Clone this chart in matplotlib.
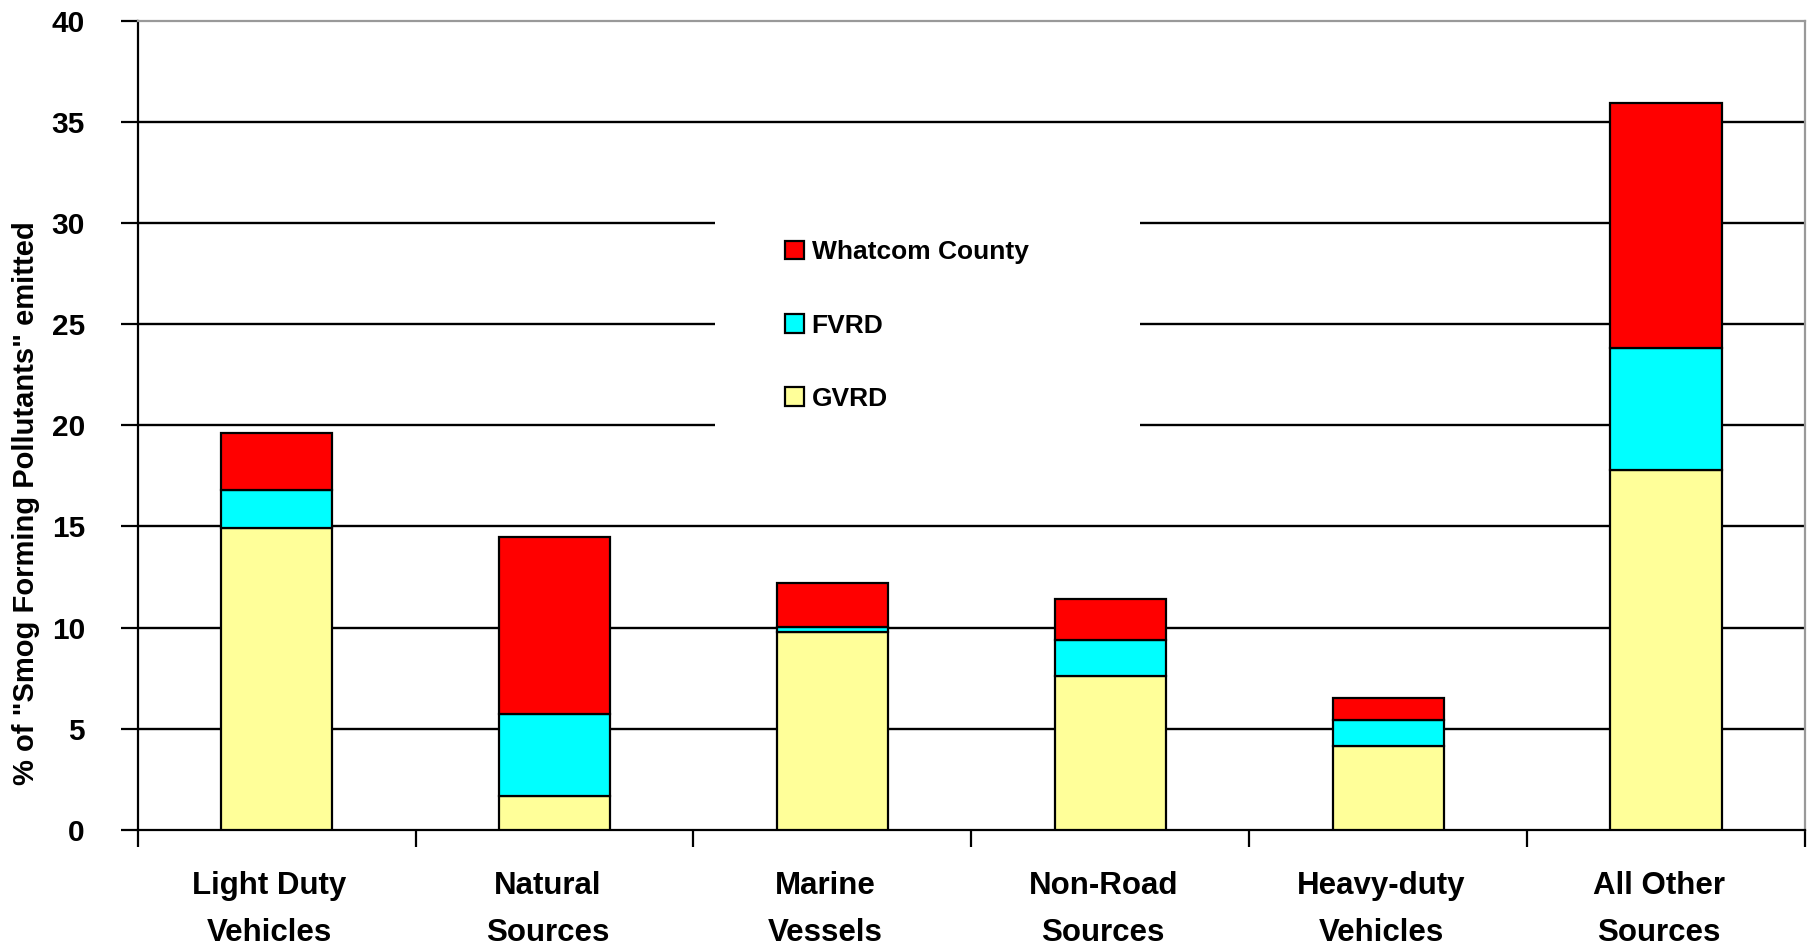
import matplotlib
matplotlib.use("Agg")
import matplotlib.pyplot as plt
from matplotlib.patches import Rectangle
from matplotlib.transforms import ScaledTranslation
import numpy as np

categories = [
    "Light Duty\nVehicles",
    "Natural\nSources",
    "Marine\nVessels",
    "Non-Road\nSources",
    "Heavy-duty\nVehicles",
    "All Other\nSources",
]
gvrd = [14.9, 1.65, 9.8, 7.6, 4.15, 17.8]
fvrd = [1.9, 4.05, 0.25, 1.8, 1.3, 6.0]
whatcom = [2.8, 8.8, 2.15, 2.0, 1.05, 12.15]
yticks = [0, 5, 10, 15, 20, 25, 30, 35, 40]

plt.rcParams["font.family"] = ["Liberation Sans", "DejaVu Sans"]
plt.rcParams["font.weight"] = "bold"

fig = plt.figure(figsize=(18.14, 9.44), dpi=100)
ax = fig.add_axes([0.0759, 0.121, 0.9191, 0.857])

x = np.arange(len(categories))
w = 0.4
g = np.array(gvrd)
f = np.array(fvrd)
wc = np.array(whatcom)
b1 = ax.bar(x, g, w, color="#FFFF99", edgecolor="black", linewidth=1.6, zorder=3, label="GVRD")
b2 = ax.bar(x, f, w, bottom=g, color="#00FFFF", edgecolor="black", linewidth=1.6, zorder=3, label="FVRD")
b3 = ax.bar(x, wc, w, bottom=g + f, color="#FF0000", edgecolor="black", linewidth=1.6, zorder=3,
            label="Whatcom County")

ax.set_xlim(-0.5, len(categories) - 0.5)
ax.set_ylim(0, 40)
ax.set_yticks(yticks)
ax.set_yticklabels([str(t) for t in yticks], fontsize=21.5, fontweight="bold")
for t in yticks[1:-1]:
    ax.axhline(t, color="black", linewidth=1.7, zorder=1)

# category boundaries as ticks, names at centres
ax.set_xticks(np.arange(-0.5, len(categories)), minor=False)
ax.set_xticklabels([])
ax.set_xticks(x, minor=True)
ax.set_xticklabels(categories, minor=True, fontsize=22.5, fontweight="bold", linespacing=1.7)
ax.tick_params(axis="x", which="minor", length=0, pad=30)
ax.tick_params(axis="x", which="major", direction="out", length=12, width=1.6)
ax.tick_params(axis="y", direction="out", length=12, width=1.6, pad=26)
shift = ScaledTranslation(-7 / 100, 0, fig.dpi_scale_trans)
for lab in ax.get_xticklabels(minor=True):
    lab.set_transform(lab.get_transform() + shift)

ax.spines["left"].set_linewidth(1.6)
ax.spines["bottom"].set_linewidth(1.6)
ax.spines["top"].set_color("#999999")
ax.spines["right"].set_color("#999999")
ax.spines["top"].set_linewidth(1.6)
ax.spines["right"].set_linewidth(1.6)

# white patch behind legend hides the grid there
ax.add_patch(Rectangle((0.346, 0.49), 0.255, 0.28, transform=ax.transAxes,
                       facecolor="white", edgecolor="none", zorder=2))

leg = ax.legend(handles=[b3, b2, b1], loc="upper left", bbox_to_anchor=(0.3805, 0.745),
                frameon=False, fontsize=19, handlelength=0.7, handleheight=0.7,
                handletextpad=0.3, labelspacing=1.87, borderpad=0)
for t in leg.get_texts():
    t.set_fontweight("bold")
leg.set_zorder(4)

fig.text(0.0145, 0.467, '% of "Smog Forming Pollutants" emitted', rotation=90,
         ha="center", va="center", fontsize=21, fontweight="bold")

fig.savefig("out.png", dpi=100)
